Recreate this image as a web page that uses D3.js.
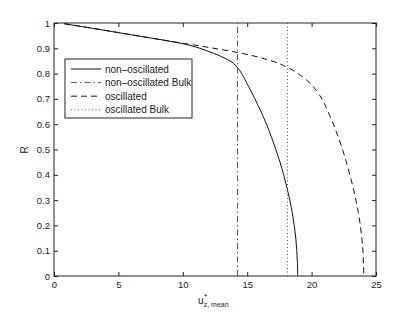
<!DOCTYPE html>
<html>
<head>
<meta charset="utf-8">
<script src="https://cdn.jsdelivr.net/npm/d3@7"></script>
<style>
  body { margin: 0; background: #fff; }
  text { font-family: "Liberation Sans", Arial, sans-serif; fill: #222; }
</style>
</head>
<body>
<div id="root"></div>
<script>
// values
const nonOscU = [0.8, 3, 5, 7, 9, 10.2, 11.34, 12.4, 13.3, 13.95, 14.3, 14.57, 15.1, 15.6, 16.07, 16.5, 16.88, 17.22, 17.55, 17.83, 18.08, 18.31, 18.5, 18.65, 18.77, 18.85, 18.9, 18.92];
const nonOscR = [0.997, 0.979, 0.962, 0.945, 0.928, 0.916, 0.9, 0.88, 0.86, 0.84, 0.82, 0.8, 0.75, 0.7, 0.65, 0.6, 0.55, 0.5, 0.45, 0.4, 0.35, 0.3, 0.25, 0.2, 0.15, 0.1, 0.05, 0];
const oscU = [0.8, 3, 5, 7, 9, 11, 12.4, 14.3, 15.8, 16.9, 17.6, 18.1, 18.55, 18.95, 19.6, 20.1, 20.8, 21.27, 21.69, 22.06, 22.4, 22.7, 22.97, 23.22, 23.44, 23.63, 23.78, 23.9, 23.98, 24.03, 24.05];
const oscR = [0.997, 0.979, 0.962, 0.945, 0.928, 0.912, 0.9, 0.883, 0.866, 0.85, 0.837, 0.825, 0.813, 0.8, 0.775, 0.75, 0.7, 0.65, 0.6, 0.55, 0.5, 0.45, 0.4, 0.35, 0.3, 0.25, 0.2, 0.15, 0.1, 0.05, 0];
const nonOscBulk = 14.25;
const oscBulk = 18.13;
const xTicks = [0, 5, 10, 15, 20, 25];
const yTicks = [0, 0.1, 0.2, 0.3, 0.4, 0.5, 0.6, 0.7, 0.8, 0.9, 1];
const legendNames = ["non\u2013oscillated", "non\u2013oscillated Bulk", "oscillated", "oscillated Bulk"];

const width = 415, height = 312;
const svg = d3.select("#root").append("svg")
  .attr("width", width)
  .attr("height", height);

const x = d3.scaleLinear().domain([0, 25]).range([54, 376]);
const y = d3.scaleLinear().domain([0, 1]).range([276, 23]);

// styles for the four series
const dashes = [null, "6,3,1.5,3", "6,4", "1,2.5"];
const colors = ["#111", "#555", "#111", "#555"];

// Axes (inward ticks, all four sides)
svg.append("g")
  .attr("transform", `translate(0,${y(0)})`)
  .call(d3.axisBottom(x).tickValues(xTicks).tickSize(-4).tickPadding(5).tickFormat(d3.format("d")))
  .call(g => g.select(".domain").remove());
svg.append("g")
  .attr("transform", `translate(0,${y(1)})`)
  .call(d3.axisTop(x).tickValues(xTicks).tickSize(-4).tickFormat(""))
  .call(g => g.select(".domain").remove());
svg.append("g")
  .attr("transform", `translate(${x(0)},0)`)
  .call(d3.axisLeft(y).tickValues(yTicks).tickSize(-4).tickPadding(4).tickFormat(d => d === 0 || d === 1 ? d : d.toFixed(1)))
  .call(g => g.select(".domain").remove());
svg.append("g")
  .attr("transform", `translate(${x(25)},0)`)
  .call(d3.axisRight(y).tickValues(yTicks).tickSize(-4).tickFormat(""))
  .call(g => g.select(".domain").remove());

svg.selectAll(".tick text").attr("font-size", 9.5).attr("font-family", "Liberation Sans, Arial, sans-serif").attr("fill", "#222");
svg.selectAll(".tick line").attr("stroke", "#222");

svg.append("rect")
  .attr("x", x(0)).attr("y", y(1))
  .attr("width", x(25) - x(0)).attr("height", y(0) - y(1))
  .attr("fill", "none").attr("stroke", "#222").attr("stroke-width", 1);

// Curves
const line = d3.line().x(d => x(d[0])).y(d => y(d[1])).curve(d3.curveCatmullRom.alpha(0.5));

svg.append("path")
  .datum(d3.zip(nonOscU, nonOscR))
  .attr("d", line)
  .attr("fill", "none").attr("stroke", colors[0]).attr("stroke-width", 1);

svg.append("path")
  .datum(d3.zip(oscU, oscR))
  .attr("d", line)
  .attr("fill", "none").attr("stroke", colors[2]).attr("stroke-width", 1)
  .attr("stroke-dasharray", dashes[2]);

// Bulk lines
svg.append("line")
  .attr("x1", x(nonOscBulk)).attr("x2", x(nonOscBulk))
  .attr("y1", y(0)).attr("y2", y(1))
  .attr("stroke", colors[1]).attr("stroke-dasharray", dashes[1]);
svg.append("line")
  .attr("x1", x(oscBulk)).attr("x2", x(oscBulk))
  .attr("y1", y(0)).attr("y2", y(1))
  .attr("stroke", colors[3]).attr("stroke-dasharray", dashes[3]);

// Legend
const legend = svg.append("g").attr("transform", "translate(65,59)");
legend.append("rect")
  .attr("width", 127).attr("height", 59)
  .attr("fill", "#fff").attr("stroke", "#222");
legendNames.forEach((name, i) => {
  const ly = 10 + i * 13.6;
  legend.append("line")
    .attr("x1", 6).attr("x2", 36).attr("y1", ly).attr("y2", ly)
    .attr("stroke", colors[i])
    .attr("stroke-dasharray", dashes[i]);
  legend.append("text")
    .attr("x", 40).attr("y", ly).attr("dy", "0.35em")
    .attr("font-size", 10)
    .text(name);
});

// Axis labels
svg.append("text")
  .attr("transform", "translate(28,150) rotate(-90)")
  .attr("text-anchor", "middle")
  .attr("font-size", 10)
  .text("R");

const xl = svg.append("text").attr("x", 198).attr("y", 304).attr("font-size", 10);
xl.append("tspan").text("u");
xl.append("tspan").attr("font-size", 7).attr("dy", -6).text("+");
xl.append("tspan").attr("font-size", 7).attr("dx", -4).attr("dy", 9).text("z, mean");
</script>
</body>
</html>
